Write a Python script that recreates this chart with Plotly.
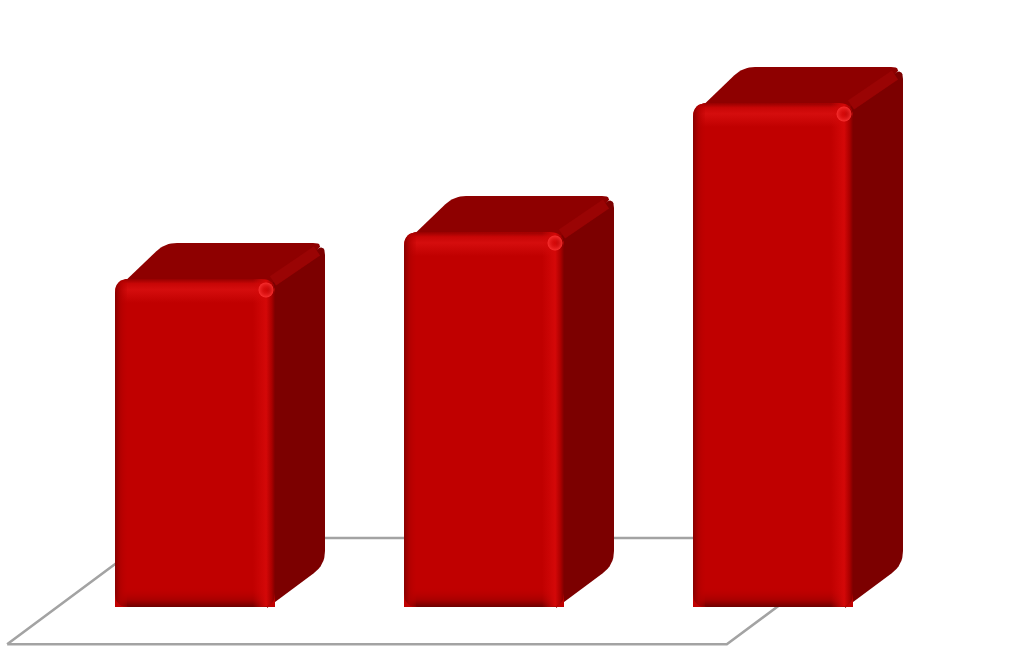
import plotly.graph_objects as go

# bar heights (no axis is shown, tallest = 100)
categories = [0, 1, 2]
values = [65.1, 74.4, 100]

# scale of the axes, px per unit
PX_X = 289.0
PX_Y = 5.04
BAR_W = 160 / PX_X
DEPTH_X = 50
DEPTH_Y = 36
R = 14

FLOOR_FRONT = -7.4
FLOOR_BACK = 13.7
FLOOR_LEFT = -0.65
FLOOR_RIGHT = 2.335
FLOOR_SKEW = 143 / PX_X

FRONT = "#c00000"
TOP = "#8e0000"
SIDE = "#7c0000"


def rounded(pts, radii):
    # polygon in px with quadratic corners, radii per corner
    out = []
    n = len(pts)
    for i in range(n):
        px, py = pts[i - 1]
        cx, cy = pts[i]
        nx, ny = pts[(i + 1) % n]
        r = radii[i]
        if r == 0:
            out.append((cx, cy))
            continue
        d1 = ((px - cx) ** 2 + (py - cy) ** 2) ** 0.5
        d2 = ((nx - cx) ** 2 + (ny - cy) ** 2) ** 0.5
        a = (cx + (px - cx) * r / d1, cy + (py - cy) * r / d1)
        b = (cx + (nx - cx) * r / d2, cy + (ny - cy) * r / d2)
        for k in range(9):
            t = k / 8
            out.append(((1 - t) ** 2 * a[0] + 2 * t * (1 - t) * cx + t * t * b[0],
                        (1 - t) ** 2 * a[1] + 2 * t * (1 - t) * cy + t * t * b[1]))
    return out


def poly(fig, x0, pts, color=None, axes="", gradient=None):
    xs = [x0 + p[0] / PX_X for p in pts] + [x0 + pts[0][0] / PX_X]
    ys = [p[1] / PX_Y for p in pts] + [pts[0][1] / PX_Y]
    tr = go.Scatter(x=xs, y=ys, mode="lines", line=dict(width=0), fill="toself",
                    hoverinfo="skip", showlegend=False,
                    xaxis="x" + axes, yaxis="y" + axes)
    if gradient:
        tr.fillgradient = gradient
    else:
        tr.fillcolor = color
    fig.add_trace(tr)


fig = go.Figure()

# floor
fig.add_trace(go.Scatter(
    x=[FLOOR_LEFT, FLOOR_RIGHT - FLOOR_SKEW, FLOOR_RIGHT, FLOOR_LEFT + FLOOR_SKEW, FLOOR_LEFT],
    y=[FLOOR_FRONT, FLOOR_FRONT, FLOOR_BACK, FLOOR_BACK, FLOOR_FRONT],
    mode="lines", line=dict(color="#a3a3a3", width=2.6), hoverinfo="skip", showlegend=False))

# top and side faces, behind the fronts
for c, v in zip(categories, values):
    x0 = c - BAR_W / 2
    h = v * PX_Y
    w = BAR_W * PX_X
    poly(fig, x0, rounded([(0, h - 12), (DEPTH_X, h + DEPTH_Y), (w + DEPTH_X, h + DEPTH_Y), (w, h - 12)],
                          [8, 12, 12, 0]), TOP)
    poly(fig, x0, rounded([(w - 8, h - 8), (w + DEPTH_X, h + DEPTH_Y), (w + DEPTH_X, DEPTH_Y + 6), (w - 8, -1)],
                          [0, 12, 14, 0]), SIDE)
    # bevel running back along the top right edge
    fig.add_trace(go.Scatter(
        x=[x0 + (w - 2) / PX_X, x0 + (w + DEPTH_X - 8) / PX_X],
        y=[(h - 2) / PX_Y, (h + DEPTH_Y - 8) / PX_Y],
        mode="lines", line=dict(color="#9a0404", width=11), hoverinfo="skip", showlegend=False))

# fronts on the overlaid axes so they sit above the faces
fig.add_trace(go.Bar(x=categories, y=values, width=BAR_W, marker=dict(color=FRONT, cornerradius=R, line=dict(width=0)),
                     hoverinfo="skip", showlegend=False, xaxis="x2", yaxis="y2"))

for c, v in zip(categories, values):
    x0 = c - BAR_W / 2
    h = v * PX_Y
    w = BAR_W * PX_X
    top_y = v
    grad_top = dict(type="vertical", colorscale=[[0, "rgba(214,14,14,0)"], [0.55, "rgba(214,14,14,0.95)"],
                                                 [0.8, "rgba(200,6,6,1)"], [1, "rgba(150,0,0,1)"]])
    poly(fig, x0, rounded([(0, h - 24), (0, h), (w, h), (w, h - 24)], [0, R, R, 0]), axes="2", gradient=grad_top)
    grad_bottom = dict(type="vertical", colorscale=[[0, "rgba(110,0,0,1)"], [0.35, "rgba(165,0,0,0.9)"],
                                                    [1, "rgba(192,0,0,0)"]])
    poly(fig, x0, rounded([(0, 0), (0, 20), (w, 20), (w, 0)], [R, 0, 0, R]), axes="2", gradient=grad_bottom)
    grad_left = dict(type="horizontal", colorscale=[[0, "rgba(135,0,0,1)"], [0.4, "rgba(175,0,0,0.8)"],
                                                    [1, "rgba(192,0,0,0)"]])
    poly(fig, x0, rounded([(0, 0), (0, h), (12, h), (12, 0)], [R, R, 0, 0]), axes="2", gradient=grad_left)
    grad_right = dict(type="horizontal", colorscale=[[0, "rgba(212,8,8,0)"], [0.6, "rgba(212,8,8,1)"],
                                                     [0.85, "rgba(170,0,0,1)"], [1, "rgba(125,0,0,1)"]])
    poly(fig, x0, rounded([(w - 22, 0), (w - 22, h), (w, h), (w, 0)], [0, 0, R, R]), axes="2", gradient=grad_right)
    # glint on the front corner
    fig.add_trace(go.Scatter(
        x=[x0 + (w - 9) / PX_X], y=[top_y - 11 / PX_Y], mode="markers",
        marker=dict(size=15, color="rgba(250,50,50,0.95)", line=dict(width=0),
                    gradient=dict(type="radial", color="rgba(214,14,14,0)")),
        hoverinfo="skip", showlegend=False, xaxis="x2", yaxis="y2"))

x_range = [-195 / PX_X, (1023 - 195) / PX_X]
y_range = [-(651 - 607) / PX_Y, 607 / PX_Y]
hidden = dict(visible=False, showgrid=False, zeroline=False, fixedrange=True)
fig.update_layout(
    width=1023, height=651, margin=dict(l=0, r=0, t=0, b=0),
    paper_bgcolor="white", plot_bgcolor="white",
    xaxis=dict(range=x_range, **hidden),
    yaxis=dict(range=y_range, **hidden),
    xaxis2=dict(range=x_range, overlaying="x", **hidden),
    yaxis2=dict(range=y_range, overlaying="y", **hidden),
)

fig.write_html("out.html", config=dict(displayModeBar=False),
               post_script="document.body.style.margin='0';document.body.style.overflow='hidden';")
